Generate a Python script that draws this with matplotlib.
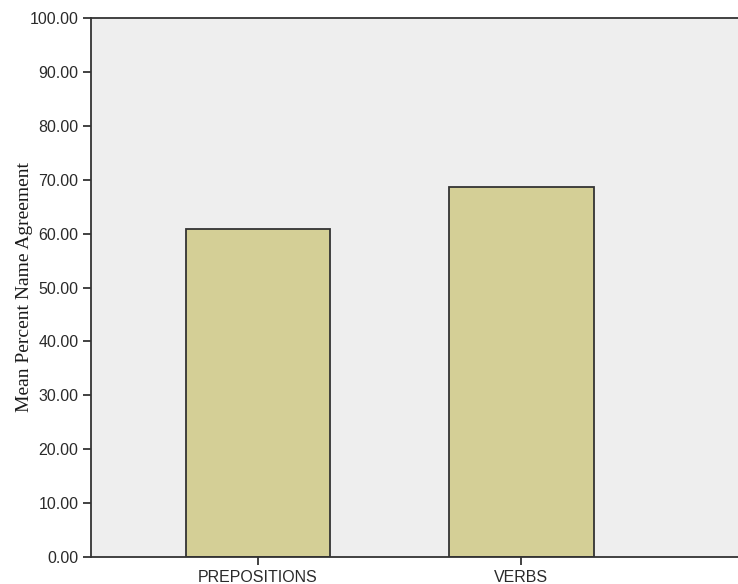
import matplotlib
matplotlib.use("Agg")
import matplotlib.pyplot as plt

categories = ["PREPOSITIONS", "VERBS"]
mean_agreement = [60.8, 68.6]
y_ticks = [0, 10, 20, 30, 40, 50, 60, 70, 80, 90, 100]

fig = plt.figure(figsize=(7.38, 5.84), dpi=100)
ax = fig.add_axes([91 / 738, 1 - 557 / 584, 1 - 91 / 738, (557 - 18) / 584])
ax.set_facecolor("#eeeeee")

x = range(len(categories))
ax.bar(x, mean_agreement, width=0.55, color="#d4cf96", edgecolor="#333333", linewidth=1.3, zorder=2)

ax.set_xlim(-0.635, 1.824)
ax.set_ylim(0, 100)
ax.set_xticks(list(x))
ax.set_xticklabels(categories, fontfamily="Liberation Sans", fontsize=11.5, color="#2a2a2a")
ax.set_yticks(y_ticks)
ax.set_yticklabels([f"{v:.2f}" for v in y_ticks], fontfamily="Liberation Sans", fontsize=11.5, color="#2a2a2a")
ax.tick_params(axis="both", direction="out", length=6, width=1.3, color="#333333", pad=3)

ax.spines["right"].set_visible(False)
for s in ["left", "bottom", "top"]:
    ax.spines[s].set_color("#333333")
    ax.spines[s].set_linewidth(1.3)

ax.set_ylabel("Mean Percent Name Agreement", fontfamily="Liberation Serif", fontsize=14, labelpad=-2.5, color="#1a1a1a")

fig.savefig("out.png", dpi=100)
